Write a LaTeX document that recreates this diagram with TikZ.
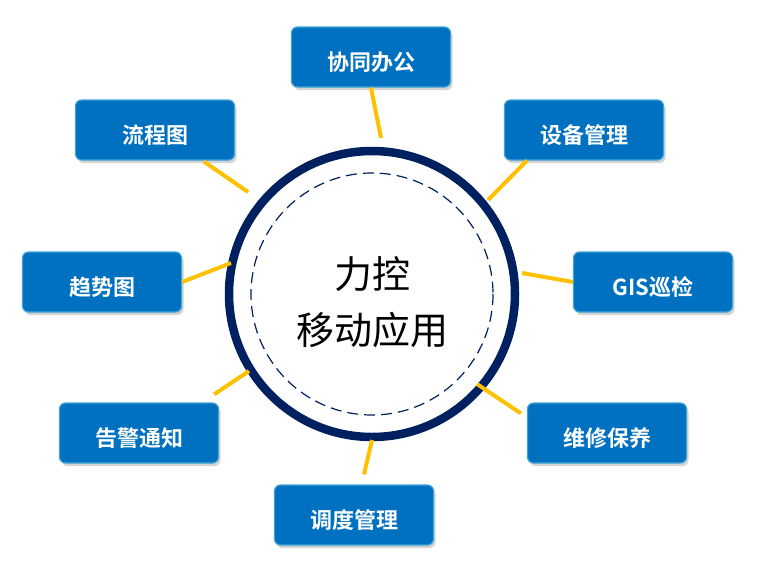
\documentclass[tikz,border=0pt]{standalone}
\usepackage{fontspec}
\usetikzlibrary{shadows}
\newfontfamily\cjk{Noto Sans CJK SC}[BoldFont={Noto Sans CJK SC Bold}]
\definecolor{boxblue}{HTML}{0070C0}
\definecolor{boxedge}{HTML}{3FA3D6}
\definecolor{navy}{HTML}{002060}
\definecolor{gold}{HTML}{FFC000}

\begin{document}
\begin{tikzpicture}[x=1pt, y=-1pt,
    modbox/.style={draw=boxedge, line width=1.2pt, fill=boxblue, rounded corners=6pt,
      minimum width=159pt, minimum height=60pt, text=white,
      text height=28pt, text depth=2pt,
      font=\cjk\bfseries\fontsize{22}{26}\selectfont,
      drop shadow={opacity=0.35, shadow xshift=2pt, shadow yshift=-3pt}},
    link/.style={draw=gold, line width=4pt}]
      \useasboundingbox (0,0) rectangle (763,576);
      % the hub: thick ring with a dashed ring inside
      \node[circle, draw=navy, line width=8.5pt, minimum size=286pt, inner sep=0pt] (hub) at (372,294) {};
      \draw[navy, line width=1.2pt, dash pattern=on 11pt off 6pt] (hub.center) circle (121);
      \node[font=\cjk\fontsize{38}{56}\selectfont, align=center] (title) at (372,302) {力控\\移动应用};
      % the eight modules, clockwise from the top
      \node[modbox] (xt) at (371,57) {协同办公};
      \node[modbox] (sb) at (584,130) {设备管理};
      \node[modbox] (gis) at (653,282) {GIS巡检};
      \node[modbox] (wx) at (607,433) {维修保养};
      \node[modbox] (dd) at (354,515) {调度管理};
      \node[modbox] (gj) at (139,433) {告警通知};
      \node[modbox] (qs) at (102,282) {趋势图};
      \node[modbox] (lc) at (155,130) {流程图};
      % ends of the links at the ring
      \coordinate (e1) at (381,138);
      \coordinate (e2) at (488,200);
      \coordinate (e3) at (522,273);
      \coordinate (e4) at (477,384);
      \coordinate (e5) at (372,440);
      \coordinate (e6) at (249,371);
      \coordinate (e7) at (231,263);
      \coordinate (e8) at (248,192);
      \draw[link] (xt.south) -- (e1);
      \draw[link] ([shift={(23,0)}]sb.south west) -- (e2);
      \draw[link] (gis.west) -- (e3);
      \draw[link] ([shift={(-6,11)}]wx.north west) -- (e4);
      \draw[link] ([shift={(10,-10)}]dd.north) -- (e5);
      \draw[link] ([shift={(-5,-8)}]gj.north east) -- (e6);
      \draw[link] (qs.east) -- (e7);
      \draw[link] ([shift={(49,1)}]lc.south) -- (e8);
    \end{tikzpicture}
\end{document}
